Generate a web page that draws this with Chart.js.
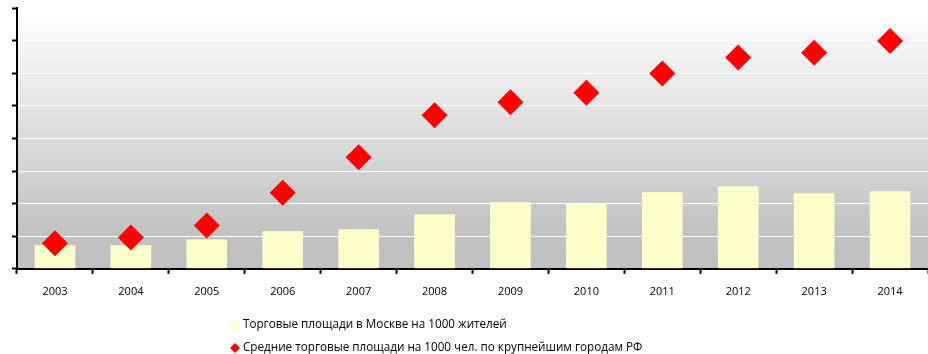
<!DOCTYPE html>
<html>
<head>
<meta charset="utf-8">
<script src="https://cdn.jsdelivr.net/npm/chart.js@4/dist/chart.umd.min.js"></script>
<style>
  html, body { margin: 0; padding: 0; background: #fff; }
  #wrap { position: relative; width: 928px; height: 354px; }
</style>
</head>
<body>
<div id="wrap"><canvas id="chart" width="928" height="354"></canvas></div>
<script>
const years = ['2003', '2004', '2005', '2006', '2007', '2008', '2009', '2010', '2011', '2012', '2013', '2014'];
const moscowArea = [0.72, 0.72, 0.9, 1.15, 1.21, 1.67, 2.04, 1.99, 2.35, 2.53, 2.32, 2.38];
const citiesArea = [0.78, 0.96, 1.33, 2.33, 3.42, 4.71, 5.11, 5.4, 5.99, 6.48, 6.63, 6.99];
const moscowLabel = 'Торговые площади в Москве на 1000 жителей';
const citiesLabel = 'Средние торговые площади на 1000 чел. по крупнейшим городам РФ';

const FONT = '"Open Sans", "DejaVu Sans", sans-serif';

// grey-to-white fill behind the plot
const plotBackground = {
    id: 'plotBackground',
    beforeDraw(chart) {
        const { ctx, chartArea: a } = chart;
        const g = ctx.createLinearGradient(0, a.top, 0, a.bottom);
        g.addColorStop(0, '#ffffff');
        g.addColorStop(0.85, '#c2c2c2');
        g.addColorStop(1, '#bfbfbf');
        ctx.save();
        ctx.fillStyle = g;
        ctx.fillRect(a.left, a.top, a.right - a.left, a.bottom - a.top);
        ctx.restore();
    }
};

// legend stacked in two rows under the axis
const stackedLegend = {
    id: 'stackedLegend',
    afterDraw(chart) {
        const ctx = chart.ctx;
        const x = 235, rows = [325, 348];
        ctx.save();
        ctx.font = '11.7px ' + FONT;
        ctx.textBaseline = 'middle';

        const bar = chart.data.datasets[1];
        ctx.fillStyle = bar.backgroundColor;
        ctx.fillRect(x - 4, rows[0] - 4, 8, 8);
        ctx.fillStyle = '#000';
        ctx.fillText(bar.label, x + 8, rows[0]);

        const pts = chart.data.datasets[0];
        ctx.fillStyle = pts.backgroundColor;
        ctx.beginPath();
        ctx.moveTo(x - 5, rows[1]);
        ctx.lineTo(x, rows[1] - 5);
        ctx.lineTo(x + 5, rows[1]);
        ctx.lineTo(x, rows[1] + 5);
        ctx.closePath();
        ctx.fill();
        ctx.fillStyle = '#000';
        ctx.fillText(pts.label, x + 8, rows[1]);
        ctx.restore();
    }
};

new Chart(document.getElementById('chart'), {
    data: {
        labels: years,
        datasets: [
            {
                type: 'line',
                label: citiesLabel,
                data: citiesArea,
                showLine: false,
                pointStyle: 'rectRot',
                pointRadius: 13,
                pointHoverRadius: 13,
                backgroundColor: '#ff0000',
                borderColor: '#ff0000',
                pointBorderWidth: 0
            },
            {
                type: 'bar',
                label: moscowLabel,
                data: moscowArea,
                backgroundColor: '#ffffcc',
                borderWidth: 0,
                barPercentage: 0.535,
                categoryPercentage: 1
            }
        ]
    },
    options: {
        responsive: false,
        animation: false,
        layout: { autoPadding: false, padding: { top: 8, right: 0, bottom: 45, left: 0 } },
        plugins: {
            legend: { display: false },
            title: { display: false },
            tooltip: { enabled: false }
        },
        scales: {
            x: {
                offset: true,
                grid: {
                    drawOnChartArea: false,
                    drawTicks: true,
                    tickLength: 5,
                    tickColor: '#000',
                    tickWidth: 2
                },
                border: { color: '#000', width: 2 },
                ticks: {
                    color: '#000',
                    padding: 11,
                    font: { family: FONT, size: 11 },
                    maxRotation: 0
                }
            },
            y: {
                min: 0,
                max: 8,
                afterFit(scale) { scale.width = 17; },
                grid: {
                    color: '#ffffff',
                    lineWidth: 1,
                    tickLength: 5,
                    tickColor: '#000',
                    tickWidth: 2
                },
                border: { color: '#000', width: 2 },
                ticks: { stepSize: 1, display: false }
            }
        }
    },
    plugins: [plotBackground, stackedLegend]
});
</script>
</body>
</html>
